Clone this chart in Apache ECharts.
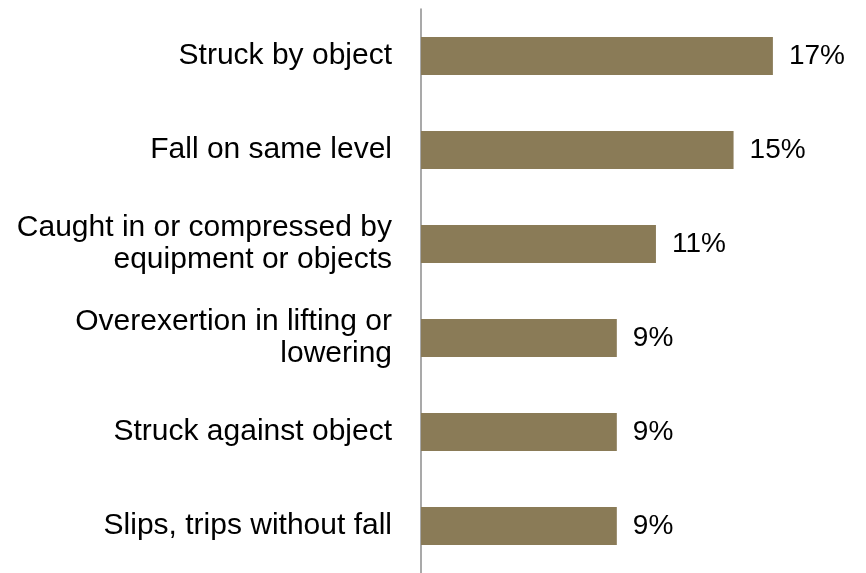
<!DOCTYPE html>
<html>
<head>
<meta charset="utf-8">
<script src="https://cdn.jsdelivr.net/npm/echarts@6/dist/echarts.min.js"></script>
<style>
html,body{margin:0;padding:0;background:#fff;}
#chart{width:866px;height:573px;}
</style>
</head>
<body>
<div id="chart"></div>
<script>
const categories = [
  "Struck by object",
  "Fall on same level",
  "Caught in or compressed by\nequipment or objects",
  "Overexertion in lifting or\nlowering",
  "Struck against object",
  "Slips, trips without fall"
];
// values (labels show them rounded)
const values = [17, 15.1, 11.35, 9.46, 9.46, 9.46];

const chart = echarts.init(document.getElementById('chart'), null, {renderer: 'canvas'});
chart.setOption({
  animation: false,
  backgroundColor: '#ffffff',
  grid: { left: 421, right: 31, top: 9, bottom: -5, containLabel: false },
  xAxis: {
    type: 'value',
    min: 0,
    max: 20,
    show: false,
    splitLine: { show: false }
  },
  yAxis: {
    type: 'category',
    data: categories,
    inverse: true,
    axisLine: { show: true, onZero: false, lineStyle: { color: '#8c8c8c', width: 1.5 } },
    axisTick: { show: false },
    axisLabel: {
      margin: 29,
      color: '#000000',
      fontFamily: '"Liberation Sans", Arial, sans-serif',
      fontSize: 30,
      lineHeight: 32,
      align: 'right',
      padding: [4, 0, 0, 0]
    }
  },
  series: [{
    type: 'bar',
    data: values,
    barWidth: 38,
    itemStyle: { color: '#8A7B57' },
    label: {
      show: true,
      position: 'right',
      distance: 16,
      color: '#000000',
      fontFamily: '"Liberation Sans", Arial, sans-serif',
      fontSize: 28,
      padding: [4, 0, 0, 0],
      formatter: p => Math.round(p.value) + '%'
    }
  }]
});
</script>
</body>
</html>
